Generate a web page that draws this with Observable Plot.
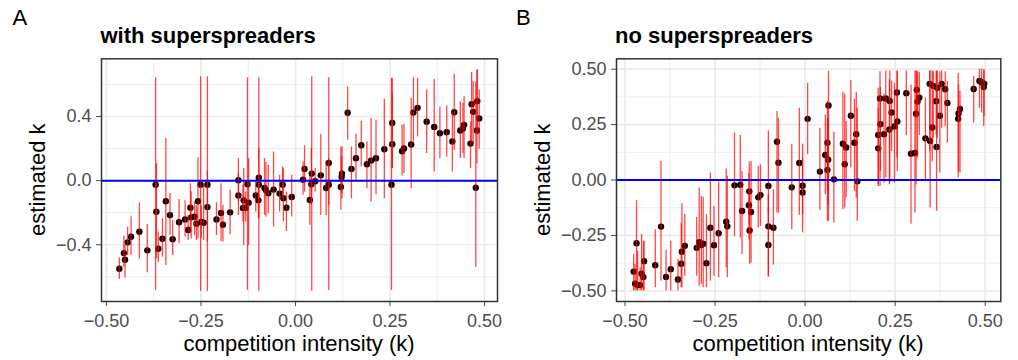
<!DOCTYPE html>
<html><head><meta charset="utf-8">
<script src="https://cdn.jsdelivr.net/npm/d3@7"></script>
<script src="https://cdn.jsdelivr.net/npm/@observablehq/plot@0.6"></script>
<style>
body{margin:0;background:#fff;}
#chart{display:flex;width:1018px;height:360px;}
#chart svg{display:block;flex:none;}
</style></head><body><div id="chart"></div>
<script>
// ---- Panel A: with superspreaders ----
const aX = [-0.466,-0.454,-0.451,-0.444,-0.435,-0.413,-0.392,-0.370,-0.368,-0.363,-0.343,-0.352,-0.332,-0.325,-0.308,-0.292,-0.284,-0.278,-0.276,-0.267,-0.258,-0.262,-0.251,-0.249,-0.243,-0.233,-0.233,-0.209,-0.197,-0.192,-0.173,
 -0.151,-0.151,-0.139,-0.137,-0.132,-0.127,-0.124,-0.105,-0.097,-0.097,-0.098,-0.082,-0.078,-0.072,-0.058,-0.042,-0.034,-0.032,-0.024,-0.010,0.020,0.024,0.038,0.043,0.042,0.052,0.067,0.081,0.088,0.088,0.120,0.123,0.122,0.138,0.148,0.160,0.174,0.189,
 0.200,0.213,0.235,0.256,0.256,0.254,0.282,0.287,0.306,0.312,0.323,0.347,0.367,0.382,0.400,0.415,0.420,0.436,0.443,0.446,0.463,0.466,0.470,0.480,0.481,0.486,0.477];
const aY = [-0.550,-0.452,-0.494,-0.385,-0.350,-0.319,-0.435,-0.025,-0.194,-0.425,-0.129,-0.363,-0.215,-0.365,-0.260,-0.242,-0.308,-0.169,-0.229,-0.225,-0.129,-0.269,-0.025,-0.258,-0.263,-0.025,-0.165,-0.242,-0.202,-0.275,-0.198,
 0.002,-0.092,-0.171,-0.123,-0.169,-0.023,-0.138,-0.092,0.019,-0.025,-0.123,-0.046,-0.060,-0.079,-0.056,-0.081,-0.025,-0.110,-0.169,-0.102,0.006,0.073,-0.121,0.044,-0.023,-0.004,0.033,-0.046,0.110,-0.025,-0.040,0.044,0.023,0.423,0.073,0.140,0.221,0.102,
 0.125,0.140,0.196,0.360,0.227,-0.025,0.183,0.200,0.225,0.425,0.454,0.367,0.335,0.296,0.302,0.244,0.427,0.313,0.325,0.348,0.231,0.477,0.429,0.313,0.496,0.388,-0.044];
const aLo = [-0.617,-0.540,-0.608,-0.467,-0.467,-0.490,-0.575,-0.685,-0.488,-0.510,-0.530,-0.477,-0.340,-0.467,-0.394,-0.352,-0.373,-0.331,-0.363,-0.342,-0.363,-0.373,-0.692,-0.360,-0.373,-0.692,-0.383,-0.342,-0.379,-0.383,-0.338,
 -0.133,-0.217,-0.258,-0.404,-0.258,-0.685,-0.404,-0.196,-0.690,-0.238,-0.238,-0.217,-0.227,-0.206,-0.290,-0.196,-0.113,-0.258,-0.317,-0.227,-0.090,-0.071,-0.279,-0.690,-0.154,-0.071,-0.217,-0.217,-0.685,-0.154,-0.185,-0.113,-0.080,0.252,-0.113,0.002,0.085,-0.050,
 -0.133,-0.088,-0.113,0.075,0.075,-0.685,0.029,0.044,-0.050,0.242,0.273,0.169,0.054,0.138,0.148,0.054,0.190,0.138,0.169,0.138,0.075,0.242,0.229,0.106,0.285,0.196,-0.540];
const aHi = [-0.483,-0.348,-0.404,-0.290,-0.225,-0.140,-0.273,0.642,0.106,-0.320,0.263,-0.238,-0.080,-0.250,-0.117,-0.125,-0.217,-0.019,-0.070,-0.133,0.142,-0.154,0.648,-0.160,-0.029,0.648,0.058,-0.138,-0.020,-0.154,-0.060,
 0.138,0.044,-0.029,0.075,-0.071,0.642,0.138,0.002,0.642,0.200,-0.029,0.138,0.113,0.096,0.179,0.033,0.085,0.075,-0.071,0.033,0.117,0.217,0.033,0.648,0.200,0.075,0.288,0.117,0.642,0.138,0.210,0.210,0.150,0.585,0.210,0.290,0.371,0.242,
 0.388,0.377,0.508,0.638,0.546,0.638,0.346,0.350,0.513,0.642,0.638,0.565,0.633,0.460,0.465,0.429,0.663,0.492,0.481,0.523,0.367,0.675,0.617,0.690,0.690,0.565,0.617];

// ---- Panel B: no superspreaders ----
const bX = [-0.476,-0.472,-0.468,-0.465,-0.458,-0.454,-0.449,-0.447,-0.416,-0.400,-0.386,-0.373,-0.353,-0.344,-0.342,-0.334,-0.301,-0.294,-0.288,-0.283,-0.274,-0.263,-0.253,-0.240,-0.219,-0.216,-0.196,-0.180,-0.175,-0.155,-0.156,-0.154,
 -0.150,-0.130,-0.124,-0.102,-0.102,-0.102,-0.088,-0.078,-0.074,-0.037,-0.016,-0.007,-0.007,0.007,0.041,0.056,0.062,0.064,0.062,0.065,0.080,0.105,0.110,0.114,0.127,0.137,0.142,0.145,
 0.203,0.203,0.208,0.209,0.219,0.224,0.235,0.234,0.240,0.248,0.256,0.255,0.281,0.294,0.305,0.308,0.310,0.312,0.317,0.334,0.347,0.346,0.353,0.356,0.364,0.365,0.367,0.374,0.379,0.389,0.395,0.425,0.426,0.430,0.468,0.484,0.490,0.496,0.497];
const bY = [-0.413,-0.468,-0.285,-0.474,-0.474,-0.423,-0.438,-0.366,-0.384,-0.210,-0.437,-0.402,-0.449,-0.378,-0.323,-0.297,-0.306,-0.281,-0.293,-0.287,-0.375,-0.215,-0.294,-0.240,-0.188,-0.209,-0.024,-0.021,-0.140,-0.051,-0.114,-0.228,
 -0.144,-0.078,-0.068,-0.027,-0.209,-0.293,-0.215,0.173,0.078,-0.033,0.077,-0.026,-0.056,0.276,0.038,0.113,0.045,0.092,0.168,0.336,0.003,0.164,0.071,0.147,0.290,0.168,0.207,-0.006,
 0.143,0.203,0.368,0.252,0.207,0.368,0.357,0.228,0.305,0.242,0.264,0.395,0.392,0.119,0.122,0.299,0.407,0.354,0.372,0.188,0.176,0.434,0.237,0.425,0.356,0.149,0.416,0.290,0.434,0.410,0.348,0.276,0.300,0.321,0.411,0.447,0.441,0.420,0.435];
const bLo = [-0.500,-0.500,-0.500,-0.500,-0.500,-0.500,-0.500,-0.500,-0.486,-0.456,-0.500,-0.500,-0.500,-0.486,-0.486,-0.434,-0.434,-0.479,-0.471,-0.486,-0.486,-0.456,-0.434,-0.441,-0.396,-0.441,-0.255,-0.261,-0.336,-0.200,-0.270,-0.380,
 -0.374,-0.216,-0.209,-0.149,-0.434,-0.438,-0.384,-0.149,-0.149,-0.224,-0.159,-0.239,-0.156,0.114,-0.137,-0.066,-0.186,-0.111,-0.051,-0.186,-0.194,-0.134,-0.126,-0.081,0.054,-0.051,-0.081,-0.186,
 -0.029,-0.021,-0.029,0.039,-0.014,0.009,-0.014,-0.021,0.129,-0.014,0.039,0.100,0.201,-0.200,-0.149,-0.021,0.279,0.099,0.201,-0.006,-0.126,0.129,0.081,0.189,0.204,-0.141,0.189,0.032,0.234,0.242,0.167,0.009,0.039,0.032,0.257,0.324,0.302,0.242,0.287];
const bHi = [-0.336,-0.381,-0.092,-0.321,-0.396,-0.246,-0.276,-0.276,-0.224,0.084,-0.317,-0.276,-0.359,-0.194,-0.107,-0.156,-0.168,-0.036,-0.074,-0.078,-0.156,0.032,-0.119,-0.009,0.050,0.017,0.212,0.201,0.039,0.080,0.030,-0.060,
 0.084,0.062,0.069,0.222,-0.066,-0.126,-0.044,0.309,0.279,0.162,0.324,0.162,0.100,0.437,0.234,0.294,0.279,0.272,0.354,0.491,0.216,0.396,0.387,0.264,0.449,0.366,0.396,0.324,
 0.414,0.324,0.489,0.417,0.387,0.492,0.492,0.452,0.447,0.437,0.492,0.492,0.492,0.429,0.492,0.492,0.492,0.489,0.486,0.369,0.492,0.492,0.492,0.489,0.492,0.489,0.492,0.489,0.492,0.489,0.444,0.482,0.429,0.399,0.467,0.500,0.500,0.497,0.497];

// ---- tick values ----
const xTicks = [-0.5, -0.25, 0, 0.25, 0.5];
const xMinor = [-0.375, -0.125, 0.125, 0.375];
const aYTicks = [-0.4, 0, 0.4];
const aYMinor = [-0.6, -0.2, 0.2, 0.6];
const bYTicks = [-0.5, -0.25, 0, 0.25, 0.5];
const bYMinor = [-0.375, -0.125, 0.125, 0.375];

const panelLabels = ["A", "B"];
const panelTitles = ["with superspreaders", "no superspreaders"];
const xTitle = "competition intensity (k)";
const yTitle = "estimated k";

const FONT = '"Liberation Sans", Arial, Helvetica, sans-serif';

function panel(o) {
  const data = o.x.map((x, i) => ({x, y: o.y[i], lo: o.lo[i], hi: o.hi[i]}));
  const svg = Plot.plot({
    width: 509, height: 360,
    marginTop: 58.3, marginBottom: 59, marginLeft: o.ml, marginRight: o.mr,
    style: {fontFamily: FONT, fontSize: "18px", background: "white", color: "#4D4D4D", overflow: "visible"},
    x: {domain: o.xDomain, ticks: xTicks, tickFormat: d3.format(".2f"), tickSize: 5, tickPadding: 8, label: null},
    y: {domain: o.yDomain, ticks: o.yTicks, tickFormat: d3.format(o.yFmt), tickSize: 5, tickPadding: 5, label: null},
    marks: [
      Plot.ruleX(xMinor, {stroke: "#EBEBEB", strokeWidth: 0.9}),
      Plot.ruleY(o.yMinor, {stroke: "#EBEBEB", strokeWidth: 0.9}),
      Plot.ruleX(xTicks, {stroke: "#EBEBEB", strokeWidth: 1.7}),
      Plot.ruleY(o.yTicks, {stroke: "#EBEBEB", strokeWidth: 1.7}),
      Plot.dot(data, {x: "x", y: "y", r: 3.2, fill: "black"}),
      Plot.ruleX(data, {x: "x", y1: "lo", y2: "hi", stroke: "#FF0000", strokeOpacity: 0.72, strokeWidth: 1.3}),
      Plot.ruleY([0], {stroke: "#0000FF", strokeWidth: 2}),
      Plot.frame({stroke: "#333333", strokeWidth: 1.5})
    ]
  });
  const s = d3.select(svg);
  const add = () => s.append("text").attr("font-family", FONT).attr("font-size", 22).attr("fill", "black");
  add().attr("x", o.labelX).attr("y", 25).attr("text-anchor", "start").text(o.label);
  add().attr("x", o.titleX).attr("y", 42.7).attr("text-anchor", "start").attr("font-weight", "bold").text(o.title);
  add().attr("x", 299).attr("y", 351).attr("text-anchor", "middle").text(xTitle);
  add().attr("transform", `translate(${o.yTitleX},179.7) rotate(-90)`).attr("text-anchor", "middle").text(yTitle);
  return svg;
}

const chart = document.getElementById("chart");
chart.append(panel({
  x: aX, y: aY, lo: aLo, hi: aHi,
  xDomain: [-0.5132, 0.5344], yDomain: [-0.754, 0.760],
  yTicks: aYTicks, yMinor: aYMinor, yFmt: ".1f",
  ml: 101, mr: 12, label: panelLabels[0], labelX: 12.5, title: panelTitles[0], titleX: 100.5, yTitleX: 45
}));
chart.append(panel({
  x: bX, y: bY, lo: bLo, hi: bHi,
  xDomain: [-0.5236, 0.5433], yDomain: [-0.548, 0.547],
  yTicks: bYTicks, yMinor: bYMinor, yFmt: ".2f",
  ml: 107, mr: 17.7, label: panelLabels[1], labelX: 7, title: panelTitles[1], titleX: 106, yTitleX: 41
}));
</script></body></html>
